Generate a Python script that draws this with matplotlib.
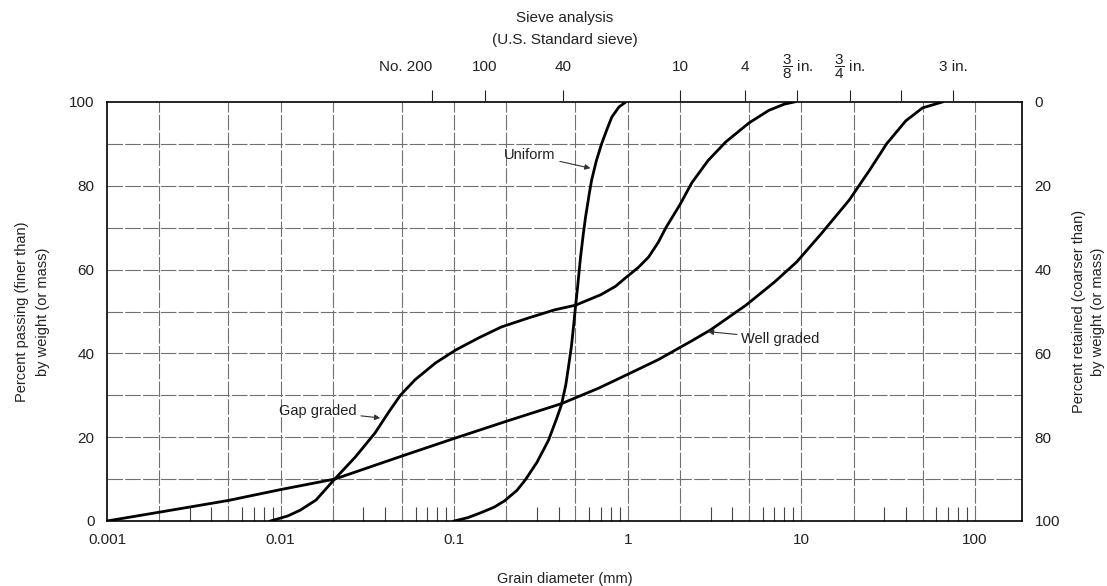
import numpy as np
import matplotlib
matplotlib.use("Agg")
import matplotlib.pyplot as plt
from matplotlib.ticker import FixedLocator, NullFormatter, FixedFormatter

plt.rcParams['font.family'] = ['Liberation Sans', 'DejaVu Sans']
plt.rcParams['mathtext.fontset'] = 'custom'
plt.rcParams['mathtext.rm'] = 'Liberation Sans'
plt.rcParams['mathtext.it'] = 'Liberation Sans'

# ---- data (grain diameter in mm, percent passing) ----
well_d = [0.001, 0.002, 0.005, 0.01, 0.0205, 0.05, 0.1, 0.2, 0.415, 0.68, 1.0, 1.5, 2.34, 3.0,
          4.8, 7.0, 9.4, 13.0, 18.9, 25.0, 31.0, 40.0, 50.0, 65.0]
well_p = [0, 2.1, 4.9, 7.5, 10, 15.5, 19.7, 23.8, 28, 31.7, 35, 38.5, 43, 45.6,
          51.5, 57, 61.8, 68.5, 76.6, 84, 90, 95.5, 98.6, 100]

gap_d = [0.00875, 0.011, 0.013, 0.016, 0.0205, 0.027, 0.035, 0.042, 0.049, 0.0595, 0.078, 0.102,
         0.14, 0.187, 0.27, 0.38, 0.5, 0.7, 0.85, 0.97, 1.15, 1.32, 1.5, 1.66, 2.0, 2.34,
         2.9, 3.68, 5.0, 6.5, 8.0, 9.1]
gap_p = [0, 1.2, 2.6, 5, 10, 15.3, 21, 26, 30, 33.7, 37.7, 40.8,
         43.8, 46.3, 48.5, 50.4, 51.5, 54, 56, 58, 60.5, 63, 66.5, 70, 75.5, 80.7,
         86, 90.5, 95, 98, 99.5, 100]

uni_d = [0.1, 0.12, 0.143, 0.17, 0.195, 0.23, 0.257, 0.3, 0.35, 0.39, 0.415, 0.44, 0.456, 0.475,
         0.487, 0.5, 0.515, 0.535, 0.555, 0.572, 0.6, 0.62, 0.66, 0.707, 0.76, 0.81, 0.89, 0.975]
uni_p = [0, 0.8, 2, 3.3, 4.8, 7.3, 9.8, 14, 19.3, 24.5, 27.7, 32.5, 36.8, 42,
         46.3, 51, 56, 63, 68.5, 72.6, 78, 81.4, 86, 90, 93.5, 96.4, 98.8, 100]

bottom_ticks = [0.001, 0.01, 0.1, 1, 10, 100]
bottom_labels = ['0.001', '0.01', '0.1', '1', '10', '100']

sieve_mm = [0.075, 0.15, 0.425, 2.0, 4.75, 9.5, 19.0, 37.5, 75.0]
sieve_labels = ['No. 200', '100', '40', '10', '4', r'$\dfrac{3}{8}$ in.', r'$\dfrac{3}{4}$ in.', '', '3 in.']

left_ticks = [0, 20, 40, 60, 80, 100]
right_labels = ['100', '80', '60', '40', '20', '0']

# ---- figure ----
fig = plt.figure(figsize=(11.07, 5.86), dpi=100)
ax = fig.add_axes([107/1107, 1-521/586, (1022-107)/1107, (521-102)/586])
ax.set_xscale('log')
ax.set_xlim(0.001, 187)
ax.set_ylim(0, 100)

grid_col = '#707070'
for dec in [0.001, 0.01, 0.1, 1, 10, 100]:
    for k in (1, 2, 5):
        v = dec * k
        if 0.001 < v < 187:
            ax.axvline(v, color=grid_col, lw=0.8, ls=(0, (14, 2)), zorder=1)
for yv in range(10, 100, 10):
    ax.axhline(yv, color=grid_col, lw=0.8, ls=(0, (14, 2)), zorder=1)

ax.plot(well_d, well_p, color='black', lw=2.0, zorder=3, solid_joinstyle='round')
ax.plot(gap_d, gap_p, color='black', lw=2.0, zorder=3, solid_joinstyle='round')
ax.plot(uni_d, uni_p, color='black', lw=2.0, zorder=3, solid_joinstyle='round')

for s in ax.spines.values():
    s.set_linewidth(1.2)
    s.set_color('black')

ax.xaxis.set_major_locator(FixedLocator(bottom_ticks))
ax.xaxis.set_major_formatter(FixedFormatter(bottom_labels))
minor = [dec * k for dec in [0.001, 0.01, 0.1, 1, 10, 100] for k in (3, 4, 6, 7, 8, 9) if dec * k < 187]
ax.xaxis.set_minor_locator(FixedLocator(minor))
ax.xaxis.set_minor_formatter(NullFormatter())
ax.tick_params(axis='x', which='major', length=0, pad=9, labelsize=11, colors='#222222')
ax.tick_params(axis='x', which='minor', direction='in', length=10, width=0.8, color='#444444')
ax.set_yticks(left_ticks)
ax.tick_params(axis='y', length=0, pad=9, labelsize=11, colors='#222222')
ax.set_xlabel('Grain diameter (mm)', fontsize=10.5, labelpad=18, color='#222222')
ax.set_ylabel('Percent passing (finer than)\nby weight (or mass)', fontsize=10.5, labelpad=14,
              color='#222222', linespacing=1.6)

# right axis
axr = ax.twinx()
axr.set_ylim(0, 100)
axr.set_yticks(left_ticks)
axr.set_yticklabels(right_labels)
axr.tick_params(axis='y', length=0, pad=9, labelsize=11, colors='#222222')
axr.set_ylabel('Percent retained (coarser than)\nby weight (or mass)', fontsize=10.5, labelpad=9,
               color='#222222', linespacing=1.45)
for s in axr.spines.values():
    s.set_visible(False)

# top sieve axis
axt = ax.twiny()
axt.set_xscale('log')
axt.set_xlim(ax.get_xlim())
axt.xaxis.set_major_locator(FixedLocator(sieve_mm))
axt.xaxis.set_major_formatter(FixedFormatter(sieve_labels))
axt.xaxis.set_minor_locator(FixedLocator([]))
axt.tick_params(axis='x', which='major', direction='out', length=9, width=0.8, pad=13,
                labelsize=11, colors='#222222')
for s in axt.spines.values():
    s.set_visible(False)
for i, t in enumerate(axt.xaxis.get_major_ticks()):
    t.label2.set_va('baseline')
    if i == 0:
        t.label2.set_ha('right')

fig.text(565/1107, 1-18/586, 'Sieve analysis', ha='center', va='center', fontsize=11, color='#222222')
fig.text(565/1107, 1-40/586, '(U.S. Standard sieve)', ha='center', va='center', fontsize=11, color='#222222')

arrow = dict(arrowstyle='-|>', color='#333333', lw=0.8, mutation_scale=8, shrinkA=1, shrinkB=0)
ax.annotate('Uniform', xy=(0.61, 84.2), xytext=(0.385, 87.4), ha='right', va='center',
            fontsize=10.5, color='#222222', arrowprops=arrow, zorder=4)
ax.annotate('Well graded', xy=(2.9, 45.2), xytext=(4.5, 43.5), ha='left', va='center',
            fontsize=10.5, color='#222222', arrowprops=arrow, zorder=4)
ax.annotate('Gap graded', xy=(0.0375, 24.6), xytext=(0.0275, 26.2), ha='right', va='center',
            fontsize=10.5, color='#222222', arrowprops=arrow, zorder=4)

fig.savefig('out.png', dpi=100)
